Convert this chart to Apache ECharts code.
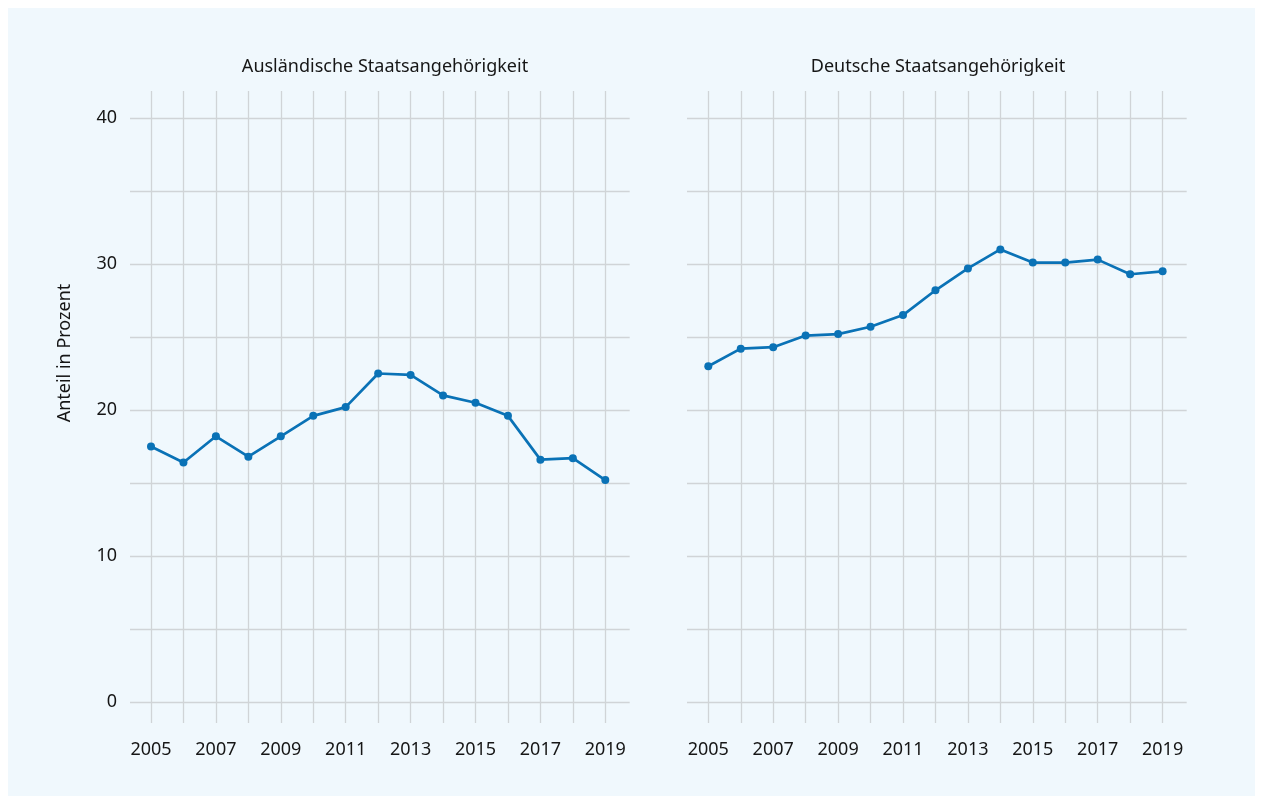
<!DOCTYPE html>
<html>
<head>
<meta charset="utf-8">
<script src="https://cdn.jsdelivr.net/npm/echarts@6/dist/echarts.min.js"></script>
<style>
html,body{margin:0;padding:0;background:#ffffff;}
#chart{width:1261px;height:796px;}
</style>
</head>
<body>
<div id="chart"></div>
<script>
const years = ['2005','2006','2007','2008','2009','2010','2011','2012','2013','2014','2015','2016','2017','2018','2019'];
const auslaendisch = [17.5, 16.4, 18.2, 16.8, 18.2, 19.6, 20.2, 22.5, 22.4, 21.0, 20.5, 19.6, 16.6, 16.7, 15.2];
const deutsch = [23.0, 24.2, 24.3, 25.1, 25.2, 25.7, 26.5, 28.2, 29.7, 31.0, 30.1, 30.1, 30.3, 29.3, 29.5];
const panelTitles = ['Ausländische Staatsangehörigkeit', 'Deutsche Staatsangehörigkeit'];
const yTitle = 'Anteil in Prozent';
const yTicks = [0, 10, 20, 30, 40];

const FONT = '"Noto Sans", "Open Sans", sans-serif';
const TXT = '#161616';
const GRID = '#d0d4d7';
const BLUE = '#0a72b6';

const panels = [
  {hLeft: 130, vLeft: 151, data: auslaendisch, showY: true},
  {hLeft: 687, vLeft: 708.3, data: deutsch, showY: false}
];
const hWidth = 499.7, vWidth = 454.3;
const pxPerYear = vWidth / 14;

const grid = [], xAxis = [], yAxis = [], series = [];
panels.forEach((p, i) => {
  grid.push({left: p.hLeft, top: 118, width: hWidth, height: 584});
  grid.push({left: p.vLeft, top: 91, width: vWidth, height: 632});
  const xmin = 2005 - (p.vLeft - p.hLeft) / pxPerYear;
  const xmax = xmin + hWidth / pxPerYear;
  xAxis.push({type: 'value', gridIndex: 2*i, min: xmin, max: xmax, show: false});
  xAxis.push({type: 'category', gridIndex: 2*i+1, data: years, boundaryGap: false,
    axisLine: {show: false}, axisTick: {show: false},
    axisLabel: {interval: 1, color: TXT, fontFamily: FONT, fontSize: 18, margin: 18},
    splitLine: {show: true, interval: 0, lineStyle: {color: GRID, width: 1.3}}});
  yAxis.push({type: 'value', gridIndex: 2*i, min: 0, max: 40, interval: 5,
    axisLine: {show: false}, axisTick: {show: false},
    axisLabel: {show: p.showY, color: TXT, fontFamily: FONT, fontSize: 18, margin: 13,
      formatter: v => yTicks.includes(v) ? String(v) : ''},
    splitLine: {show: true, lineStyle: {color: GRID, width: 1.3}}});
  yAxis.push({type: 'value', gridIndex: 2*i+1, show: false, splitLine: {show: false}});
  series.push({type: 'line', xAxisIndex: 2*i, yAxisIndex: 2*i,
    data: p.data.map((v, k) => [Number(years[k]), v]),
    symbol: 'circle', symbolSize: 8, showSymbol: true,
    lineStyle: {color: BLUE, width: 2.7}, itemStyle: {color: BLUE},
    emphasis: {disabled: true}, z: 5});
});

const chart = echarts.init(document.getElementById('chart'), null, {renderer: 'canvas'});
chart.setOption({
  backgroundColor: '#ffffff',
  animation: false,
  graphic: [
    {type: 'rect', shape: {x: 8, y: 8, width: 1247, height: 788}, style: {fill: '#f0f8fd'}, z: -10, silent: true},
    {type: 'text', x: 65, y: 353, rotation: Math.PI/2, style: {text: yTitle, font: '18px ' + FONT, fill: TXT, align: 'center', verticalAlign: 'middle'}},
  ],
  title: [
    {text: panelTitles[0], left: 380, top: 53, textAlign: 'center', textStyle: {fontFamily: FONT, fontSize: 18, fontWeight: 'normal', color: TXT}},
    {text: panelTitles[1], left: 933, top: 53, textAlign: 'center', textStyle: {fontFamily: FONT, fontSize: 18, fontWeight: 'normal', color: TXT}}
  ],
  grid, xAxis, yAxis, series
});
</script>
</body>
</html>
